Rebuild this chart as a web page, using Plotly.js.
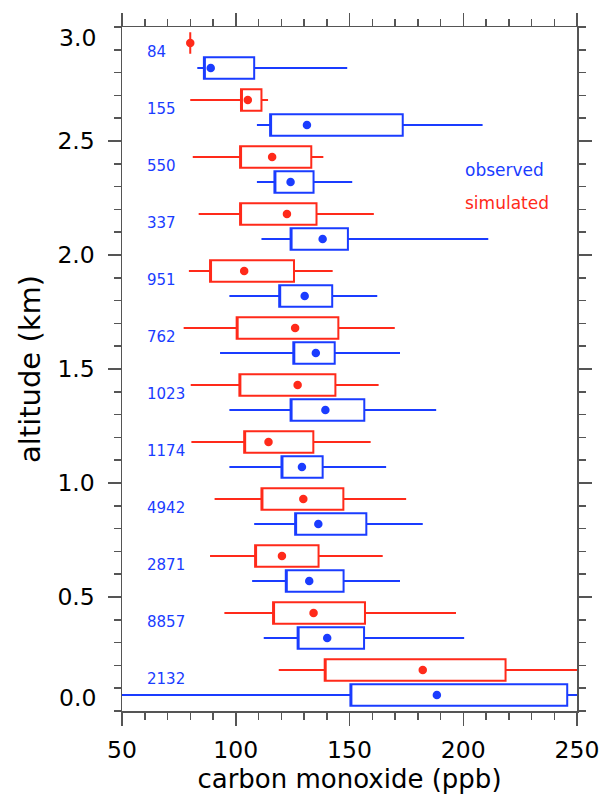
<!DOCTYPE html>
<html>
<head>
<meta charset="utf-8">
<script src="https://cdn.plot.ly/plotly-3.0.1.min.js"></script>
<style>html,body{margin:0;padding:0;background:#fff;}#chart{width:606px;height:802px;}</style>
</head>
<body>
<div id="chart"></div>
<script>
// Altitude bins (km) and sample counts
const altitudes = [2.875, 2.625, 2.375, 2.125, 1.875, 1.625, 1.375, 1.125, 0.875, 0.625, 0.375, 0.125];
const counts = [84, 155, 550, 337, 951, 762, 1023, 1174, 4942, 2871, 8857, 2132];

// Observed CO (ppb)
const obsLow  = [83.1, 109.3, 109.3, 111.3, 97.2, 93.1, 97.2, 97.2, 108.1, 107.2, 112.3, 50];
const obsQ1   = [86.0, 115.1, 117.0, 124.1, 119.1, 125.3, 124.1, 120.1, 126.1, 122.0, 127.2, 150.4];
const obsMean = [89.0, 131.3, 124.1, 138.2, 130.3, 135.2, 139.4, 129.1, 136.3, 132.3, 140.2, 188.4];
const obsQ3   = [108.1, 173.4, 134.2, 149.3, 142.4, 143.5, 156.5, 138.2, 157.4, 147.4, 156.4, 245.7];
const obsHigh = [149.0, 208.5, 151.2, 211.0, 162.2, 172.2, 188.1, 166.1, 182.2, 172.2, 200.4, 250];

// Simulated CO (ppb)
const simLow  = [80.0, 80.0, 81.1, 83.7, 79.4, 77.1, 80.2, 80.5, 90.7, 88.7, 95.0, 118.9];
const simQ1   = [80.0, 102.3, 101.9, 101.9, 88.7, 100.4, 101.6, 103.7, 111.3, 108.5, 116.4, 139.1];
const simMean = [80.0, 105.3, 116.0, 122.5, 103.7, 126.1, 127.2, 114.4, 129.7, 120.3, 134.2, 182.2];
const simQ3   = [80.0, 111.3, 133.2, 135.5, 125.6, 145.1, 143.8, 134.1, 147.3, 136.4, 156.8, 218.6];
const simHigh = [80.0, 114.2, 138.5, 160.7, 142.6, 169.9, 162.8, 159.3, 174.9, 164.6, 196.8, 250];

const yTickVals = [0.5, 1.0, 1.5, 2.0, 2.5];
const xTickVals = [50, 100, 150, 200, 250];

const BLUE = '#1a3cff';
const RED = '#ff2a1a';
const OFF = 0.055;
const simY = altitudes.map(a => a + OFF);
const obsY = altitudes.map(a => a - OFF);

function boxTrace(y, lo, q1, q3, hi, color) {
  return {
    type: 'box', orientation: 'h', y: y,
    q1: q1, median: q1, q3: q3, lowerfence: lo, upperfence: hi,
    width: 0.094, whiskerwidth: 0, boxpoints: false,
    fillcolor: 'rgba(0,0,0,0)', line: {color: color, width: 2},
    hoverinfo: 'skip', showlegend: false
  };
}
function dotTrace(y, x, color) {
  return {type: 'scatter', mode: 'markers', x: x, y: y,
    marker: {color: color, size: 8.5}, hoverinfo: 'skip', showlegend: false, cliponaxis: false};
}

const traces = [
  boxTrace(simY, simLow, simQ1, simQ3, simHigh, RED),
  boxTrace(obsY, obsLow, obsQ1, obsQ3, obsHigh, BLUE),
  dotTrace(simY, simMean, RED),
  dotTrace(obsY, obsMean, BLUE)
];

const annotations = counts.map((c, i) => ({
  x: 60, y: altitudes[i] + 0.017, xref: 'x', yref: 'y', text: String(c),
  xanchor: 'left', yanchor: 'middle', showarrow: false,
  font: {family: 'DejaVu Sans', size: 15, color: BLUE}
}));
annotations.push({x: 200, y: 2.373, xref: 'x', yref: 'y', text: 'observed', xanchor: 'left', yanchor: 'middle',
  showarrow: false, font: {family: 'DejaVu Sans', size: 17, color: BLUE}});
annotations.push({x: 200, y: 2.229, xref: 'x', yref: 'y', text: 'simulated', xanchor: 'left', yanchor: 'middle',
  showarrow: false, font: {family: 'DejaVu Sans', size: 17, color: RED}});
// end tick labels of y axis (offset inward as in the original)
annotations.push({x: 0, y: 3.0, xref: 'paper', yref: 'y', text: '3.0', xanchor: 'right', yanchor: 'middle',
  xshift: -24, yshift: -11, showarrow: false, font: {family: 'DejaVu Sans', size: 23.5, color: '#000'}});
annotations.push({x: 0, y: 0.0, xref: 'paper', yref: 'y', text: '0.0', xanchor: 'right', yanchor: 'middle',
  xshift: -24, yshift: 13, showarrow: false, font: {family: 'DejaVu Sans', size: 23.5, color: '#000'}});

const axCommon = {
  showgrid: false, zeroline: false, showline: true, mirror: 'allticks',
  linecolor: '#555', linewidth: 1.5, ticks: 'outside', ticklen: 13, tickwidth: 1.5, tickcolor: '#555',
  tickfont: {family: 'DejaVu Sans', size: 23.5, color: '#000'}
};

const layout = {
  width: 606, height: 802,
  margin: {l: 122, r: 29, t: 27, b: 91},
  paper_bgcolor: '#fff', plot_bgcolor: '#fff',
  boxmode: 'overlay',
  xaxis: Object.assign({}, axCommon, {
    range: [50, 250], tickvals: xTickVals, ticktext: xTickVals.map(String),
    minor: {dtick: 10, ticklen: 7, tickwidth: 1.5, tickcolor: '#555', ticks: 'outside'},
    ticklabelstandoff: 4,
    title: {text: 'carbon monoxide (ppb)', standoff: 4, font: {family: 'DejaVu Sans', size: 26, color: '#000'}}
  }),
  yaxis: Object.assign({}, axCommon, {
    range: [0, 3], tickvals: yTickVals, ticktext: yTickVals.map(v => v.toFixed(1)),
    minor: {dtick: 0.1, ticklen: 7, tickwidth: 1.5, tickcolor: '#555', ticks: 'outside'},
    ticklabelstandoff: 8,
    title: {text: 'altitude (km)', standoff: 8, font: {family: 'DejaVu Sans', size: 29, color: '#000'}}
  }),
  annotations: annotations
};

Plotly.newPlot('chart', traces, layout, {displayModeBar: false, staticPlot: true});
</script>
</body>
</html>
